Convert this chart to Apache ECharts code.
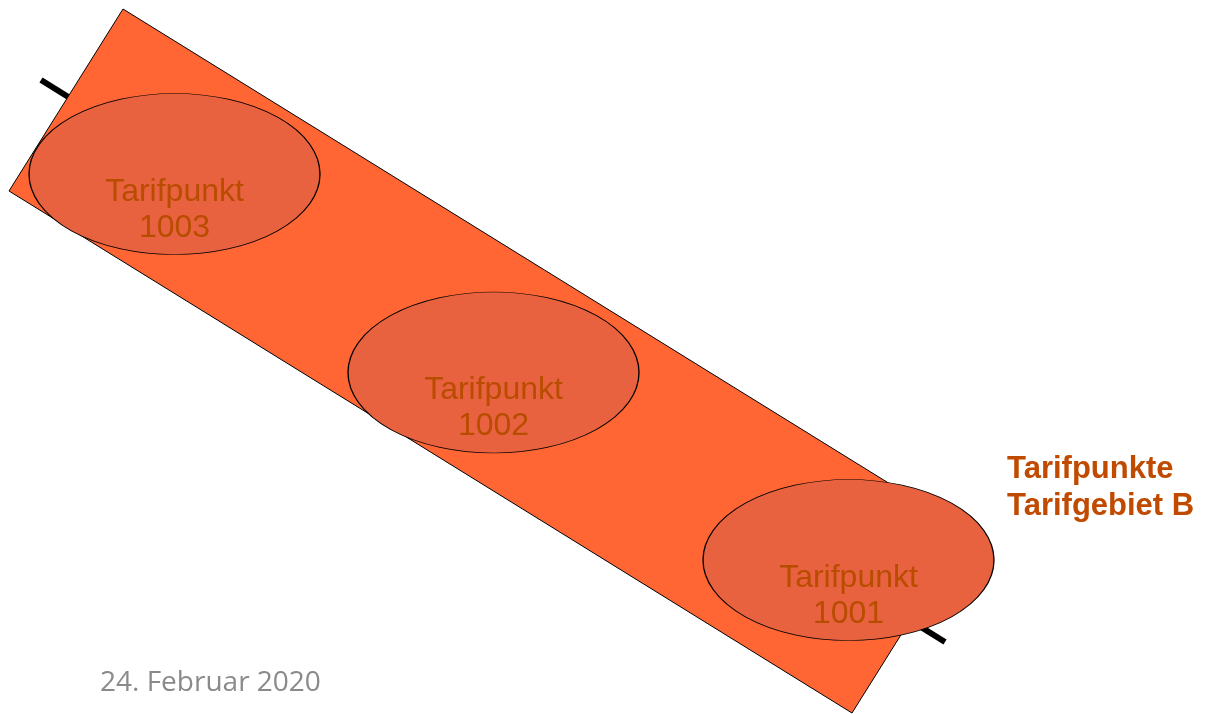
<!DOCTYPE html>
<html>
<head>
<meta charset="utf-8">
<script src="https://cdn.jsdelivr.net/npm/echarts@6/dist/echarts.min.js"></script>
<style>
html,body{margin:0;padding:0;background:#fff;}
#chart{width:1205px;height:714px;}
</style>
</head>
<body>
<div id="chart"></div>
<script>
// Diagram data (in a pixel-like value space 0..1205 x 0..714)
const zoneCorners = [[123, 9], [966, 531], [852, 713], [9, 191]];
const trackLine = [[41, 80], [945, 642]];
const pointNames = ['1003', '1002', '1001'];
const pointX = [174.5, 493.5, 848.5];
const pointY = [174, 372.5, 560];
const zoneLabel = 'Tarifpunkte\nTarifgebiet B';
const dateLabel = '24. Februar 2020';

const chart = echarts.init(document.getElementById('chart'));
const option = {
  backgroundColor: '#ffffff',
  animation: false,
  grid: {left: 0, right: 0, top: 0, bottom: 0},
  xAxis: {type: 'value', min: 0, max: 1205, show: false},
  yAxis: {type: 'value', min: 0, max: 714, inverse: true, show: false},
  series: [
    {
      type: 'line',
      z: 1,
      data: trackLine,
      symbol: 'none',
      lineStyle: {color: '#000', width: 6},
      silent: true
    },
    {
      type: 'custom',
      z: 2,
      data: [0],
      renderItem: function (params, api) {
        return {
          type: 'polygon',
          shape: {points: zoneCorners.map(p => api.coord(p))},
          style: {fill: '#FF6633', stroke: '#000', lineWidth: 1}
        };
      },
      silent: true
    },
    {
      type: 'scatter',
      z: 3,
      symbol: 'circle',
      symbolSize: [291, 161],
      data: pointNames.map((n, i) => ({name: n, value: [pointX[i], pointY[i]]})),
      itemStyle: {color: '#E8623F', borderColor: '#000', borderWidth: 1, opacity: 1},
      label: {
        show: true,
        position: 'inside',
        offset: [0, 36],
        formatter: p => 'Tarifpunkt\n' + p.name,
        fontFamily: 'Liberation Sans, Arial, sans-serif',
        fontSize: 32,
        lineHeight: 36,
        color: '#B84C00'
      },
      silent: true
    }
  ],
  graphic: [
    {
      type: 'text',
      left: 1007,
      top: 451,
      style: {
        text: zoneLabel,
        fontFamily: 'Liberation Sans, Arial, sans-serif',
        fontWeight: 'bold',
        fontSize: 31,
        lineHeight: 37,
        fill: '#C04B00'
      }
    },
    {
      type: 'text',
      left: 100,
      top: 669,
      style: {
        text: dateLabel,
        fontFamily: 'Open Sans, sans-serif',
        fontSize: 28,
        fill: '#8A8A8A'
      }
    }
  ]
};
chart.setOption(option);
</script>
</body>
</html>
